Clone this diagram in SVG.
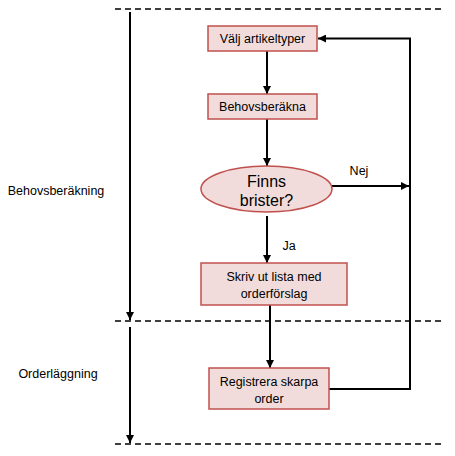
<svg xmlns="http://www.w3.org/2000/svg" width="455" height="456" viewBox="0 0 455 456">
<style>
.box{fill:#f2dcdb;stroke:#c0504d;stroke-width:1.5}
.t{font-family:"Liberation Sans",Arial,sans-serif;font-size:12.5px;fill:#000;text-anchor:middle}
.big{font-size:16px}
.ln{fill:none;stroke:#000;stroke-width:2}
.dash{fill:none;stroke:#000;stroke-width:1.5;stroke-dasharray:6,4}
</style>
<defs>
<marker id="ah" viewBox="0 0 10 10" refX="10" refY="5" markerWidth="4" markerHeight="4" orient="auto" markerUnits="strokeWidth">
<path d="M0,0 L10,5 L0,10 z" fill="#000"/>
</marker>
</defs>
<rect width="455" height="456" fill="#fff"/>
<g id="lanes">
<line class="dash" x1="115" y1="9" x2="444" y2="9"/>
<line class="dash" x1="115" y1="321" x2="444" y2="321"/>
<line class="dash" x1="115" y1="444" x2="444" y2="444"/>
<text class="t" x="56" y="195">Behovsberäkning</text>
<text class="t" x="58" y="378">Orderläggning</text>
</g>
<g id="connectors">
<line class="ln" x1="130" y1="12" x2="130" y2="320" marker-end="url(#ah)"/>
<line class="ln" x1="130" y1="327" x2="130" y2="443" marker-end="url(#ah)"/>
<line class="ln" x1="267" y1="51" x2="267" y2="94" marker-end="url(#ah)"/>
<line class="ln" x1="267" y1="119" x2="267" y2="166" marker-end="url(#ah)"/>
<line class="ln" x1="332" y1="186" x2="409" y2="186" marker-end="url(#ah)"/>
<line class="ln" x1="267" y1="216" x2="267" y2="263" marker-end="url(#ah)"/>
<line class="ln" x1="270" y1="305" x2="270" y2="368" marker-end="url(#ah)"/>
<path class="ln" d="M329,389 H410 V38.5 H318" marker-end="url(#ah)"/>
<text class="t" x="359" y="175">Nej</text>
<text class="t" x="289" y="250">Ja</text>
</g>
<g id="n1">
<rect class="box" x="208" y="26" width="109" height="25"/>
<text class="t" x="262.5" y="43">Välj artikeltyper</text>
</g>
<g id="n2">
<rect class="box" x="208" y="94" width="109" height="25"/>
<text class="t" x="262.5" y="111">Behovsberäkna</text>
</g>
<g id="n3">
<ellipse class="box" cx="266.5" cy="189" rx="65.5" ry="23"/>
<text class="t big" x="266.5" y="187">Finns</text>
<text class="t big" x="266.5" y="206">brister?</text>
</g>
<g id="n4">
<rect class="box" x="201" y="263" width="146" height="42"/>
<text class="t" x="274" y="281">Skriv ut lista med</text>
<text class="t" x="274" y="298">orderförslag</text>
</g>
<g id="n5">
<rect class="box" x="209" y="368" width="120" height="41"/>
<text class="t" x="269" y="386">Registrera skarpa</text>
<text class="t" x="269" y="403">order</text>
</g>
</svg>
